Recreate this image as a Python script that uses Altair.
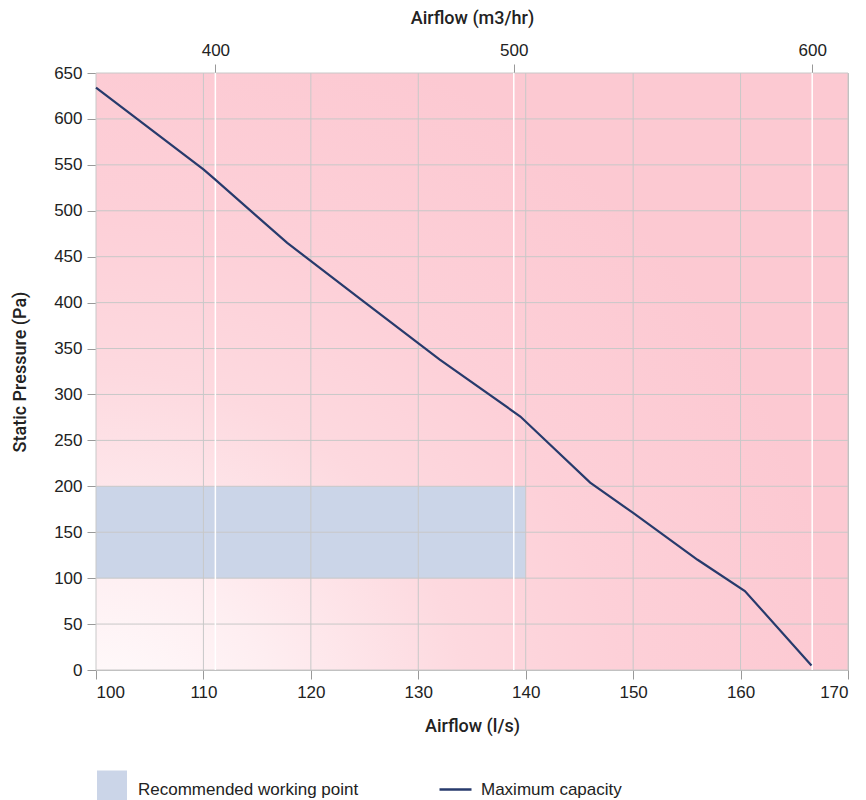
import altair as alt
import pandas as pd

# ---- data ----
flow_ls = [100, 110, 111, 117.8, 124.5, 132, 139.5, 146, 150, 156, 160.4, 166.6]
pressure_pa = [634, 545, 535, 465, 405, 338, 276, 204, 171, 120, 86, 5]

zone_flow = [100, 140]
zone_pressure = [100, 200]

x_ticks = [100, 110, 120, 130, 140, 150, 160, 170]
y_ticks = [0, 50, 100, 150, 200, 250, 300, 350, 400, 450, 500, 550, 600, 650]
top_ticks_m3h = [400, 500, 600]

x_domain = [100, 170]
y_domain = [0, 650]
top_domain = [x_domain[0] * 3.6, x_domain[1] * 3.6]

zone_label = "Recommended working point"
line_label = "Maximum capacity"

FONT = "Liberation Sans"
TFONT = "Roboto"
TXT = "#222222"
LS = 17
TS = 18

line_df = pd.DataFrame({"flow": flow_ls, "pressure": pressure_pa,
                        "series": [line_label] * len(flow_ls)})
zone_df = pd.DataFrame({"x": [zone_flow[0]], "x2": [zone_flow[1]],
                        "y": [zone_pressure[0]], "y2": [zone_pressure[1]],
                        "series": [zone_label]})
bg_df = pd.DataFrame({"x": [x_domain[0]], "x2": [x_domain[1]],
                      "y": [y_domain[0]], "y2": [y_domain[1]]})
xgrid_df = pd.DataFrame({"v": x_ticks})
ygrid_df = pd.DataFrame({"v": y_ticks})
top_df = pd.DataFrame({"m3h": top_ticks_m3h})

xs = alt.Scale(domain=x_domain, nice=False, zero=False)
ys = alt.Scale(domain=y_domain, nice=False)

gradient = {
    "gradient": "radial",
    "x1": 0, "y1": 1, "x2": 0, "y2": 1, "r1": 0, "r2": 1.0,
    "stops": [
        {"offset": 0.0, "color": "#ffffff"},
        {"offset": 0.25, "color": "#feeef1"},
        {"offset": 0.5, "color": "#fdd9df"},
        {"offset": 0.7, "color": "#fdd0d8"},
        {"offset": 1.0, "color": "#fcc9d2"},
    ],
}

common = dict(grid=False, tickColor="#999", tickSize=9,
              labelFontSize=LS, labelPadding=5, labelColor=TXT, labelFont=FONT,
              titleFontSize=TS, titleFontWeight=500, titleColor=TXT,
              titleFont=TFONT)

bottom_axis = alt.Axis(values=x_ticks, title="Airflow (l/s)", domain=False,
                       titlePadding=17, **common)
left_axis = alt.Axis(values=y_ticks, title="Static Pressure (Pa)",
                     domainColor="#bbb", titlePadding=24, **common)

bg = alt.Chart(bg_df).mark_rect(color=gradient).encode(
    x=alt.X("x:Q", scale=xs, axis=bottom_axis),
    x2="x2:Q",
    y=alt.Y("y:Q", scale=ys, axis=left_axis),
    y2="y2:Q",
)

zone = alt.Chart(zone_df).mark_rect().encode(
    x=alt.X("x:Q", scale=xs),
    x2="x2:Q",
    y=alt.Y("y:Q", scale=ys),
    y2="y2:Q",
    fill=alt.Fill(
        "series:N",
        scale=alt.Scale(domain=[zone_label], range=["#cbd5e8"]),
        legend=alt.Legend(
            title=None, orient="none", legendX=1, legendY=702,
            symbolType="M-1,-1.3H1V1.3H-1Z", symbolSize=900,
            symbolStrokeWidth=0, symbolOpacity=1,
            labelFontSize=LS, labelFont=FONT, labelColor=TXT,
            labelOffset=11, labelLimit=400, padding=0,
        ),
    ),
)

xgrid = alt.Chart(xgrid_df).mark_rule(color="#c8c8c8", strokeWidth=1).encode(
    x=alt.X("v:Q", scale=xs)
)
ygrid = alt.Chart(ygrid_df).mark_rule(color="#c8c8c8", strokeWidth=1).encode(
    y=alt.Y("v:Q", scale=ys)
)

base = alt.layer(bg, zone, xgrid, ygrid)

top = alt.Chart(top_df).mark_rule(color="#ffffff", strokeWidth=1.5).encode(
    x=alt.X("m3h:Q", scale=alt.Scale(domain=top_domain, nice=False, zero=False),
            axis=alt.Axis(orient="top", values=top_ticks_m3h,
                          title="Airflow (m3/hr)", domainColor="#bbb",
                          titlePadding=14, **common))
)

line = alt.Chart(line_df).mark_line(strokeWidth=2.2).encode(
    x=alt.X("flow:Q", scale=xs, axis=None),
    y=alt.Y("pressure:Q", scale=ys),
    stroke=alt.Stroke(
        "series:N",
        scale=alt.Scale(domain=[line_label], range=["#273a6c"]),
        legend=alt.Legend(
            title=None, orient="none", legendX=342, legendY=699,
            symbolType="stroke", symbolSize=1024, symbolStrokeWidth=2.5,
            labelFontSize=LS, labelFont=FONT, labelColor=TXT,
            labelOffset=8, labelLimit=400, padding=0,
        ),
    ),
)

chart = alt.layer(base, top, line).resolve_scale(
    x="independent", fill="independent", stroke="independent"
).properties(
    width=752, height=597,
    autosize=alt.AutoSizeParams(type="none"),
    padding={"left": 88, "top": 65, "right": 10, "bottom": 140},
).configure_view(stroke="#bbbbbb", strokeWidth=1)

chart.save("out.html", embed_options={"renderer": "svg", "actions": False})
